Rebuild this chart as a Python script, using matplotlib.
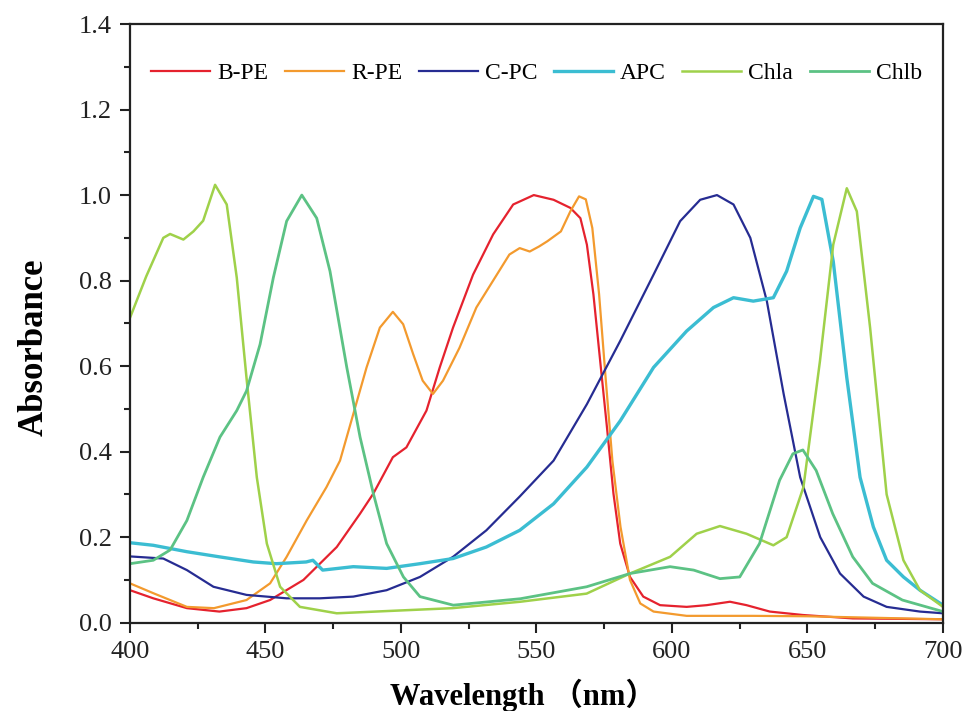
import matplotlib
matplotlib.use("Agg")
import matplotlib.pyplot as plt
from matplotlib.ticker import MultipleLocator

plt.rcParams['font.family'] = ['Liberation Serif', 'Noto Sans CJK SC']

# absorbance spectra (normalised)
bpe_wl = [400, 408.6, 421, 433, 443, 451.7, 464, 476.3, 484.9, 489.8, 497, 502, 509.4, 514.3,
          519.2, 526.6, 534, 541.4, 549, 556.3, 562.5, 566.2, 568.6, 571, 573.5, 576, 578.4,
          580.9, 584.5, 589.4, 595.6, 605.4, 612.8, 621.4, 627.5, 636.1, 648.3, 666.7, 700]
bpe_ab = [0.076, 0.057, 0.034, 0.026, 0.034, 0.053, 0.1, 0.177, 0.255, 0.302, 0.387, 0.41, 0.496, 0.597,
          0.69, 0.814, 0.908, 0.978, 1.0, 0.989, 0.97, 0.946, 0.884, 0.768, 0.612, 0.457, 0.302,
          0.185, 0.107, 0.061, 0.041, 0.037, 0.041, 0.049, 0.041, 0.026, 0.018, 0.01, 0.008]

rpe_wl = [400, 408.6, 421, 431, 443, 451.7, 457.8, 465.2, 472.5, 477.5, 482.4, 487.3, 492.2, 497,
          500.8, 504.5, 508, 511.8, 515.5, 521.6, 527.8, 533.9, 540, 543.8, 547.5, 551, 554, 559,
          562.5, 565.7, 568.2, 570.6, 573.1, 575.5, 578, 581, 584.5, 588.3, 593.2, 605.4, 630, 650, 700]
rpe_ab = [0.092, 0.069, 0.037, 0.034, 0.053, 0.092, 0.154, 0.239, 0.317, 0.379, 0.488, 0.597, 0.69, 0.727,
          0.698, 0.628, 0.566, 0.535, 0.566, 0.643, 0.737, 0.799, 0.861, 0.876, 0.868, 0.88, 0.892, 0.915,
          0.962, 0.997, 0.99, 0.923, 0.768, 0.573, 0.379, 0.224, 0.1, 0.045, 0.026, 0.016, 0.016, 0.015, 0.008]

cpc_wl = [400, 412.3, 421, 430.8, 443, 457.8, 470, 482.4, 494.7, 507, 519.2, 531.5, 543.8, 556.3,
          568.6, 580.9, 593.2, 603, 610.4, 616.6, 622.7, 628.9, 635, 641.2, 647.3, 654.7, 662,
          670.7, 679.2, 691.5, 700]
cpc_ab = [0.155, 0.15, 0.123, 0.084, 0.065, 0.057, 0.057, 0.061, 0.076, 0.107, 0.154, 0.216, 0.295, 0.379,
          0.511, 0.659, 0.814, 0.939, 0.989, 1.0, 0.978, 0.9, 0.752, 0.535, 0.34, 0.2, 0.115,
          0.061, 0.037, 0.026, 0.022]

apc_wl = [400, 408.6, 421, 433, 445.5, 454, 465, 467.5, 471.1, 482.4, 494.7, 507, 519.2, 531.5,
          543.8, 556.3, 568.6, 580.9, 593.2, 605.4, 615.3, 622.7, 630, 637.4, 642.3, 647.3, 652.2,
          655.3, 659.5, 664.5, 669.4, 674.3, 679.2, 685.4, 691.5, 700]
apc_ab = [0.187, 0.181, 0.166, 0.154, 0.142, 0.138, 0.142, 0.146, 0.123, 0.131, 0.127, 0.138, 0.15, 0.177,
          0.216, 0.278, 0.364, 0.472, 0.597, 0.682, 0.737, 0.76, 0.752, 0.76, 0.822, 0.923, 0.997,
          0.99, 0.845, 0.573, 0.34, 0.224, 0.146, 0.107, 0.076, 0.041]

chla_wl = [400, 406, 412.3, 414.8, 419.7, 423.4, 427, 431.4, 435.7, 439.4, 443.1, 446.8, 450.5, 455.4,
           462.7, 476.3, 519, 544, 568.5, 584.5, 599.3, 609.1, 617.7, 627.5, 637.4, 642.3, 648.5,
           654.6, 659.5, 664.5, 668.2, 673.1, 679.2, 685.4, 691.5, 700]
chla_ab = [0.713, 0.81, 0.9, 0.909, 0.896, 0.915, 0.94, 1.024, 0.978, 0.807, 0.566, 0.34, 0.185, 0.084,
           0.037, 0.022, 0.034, 0.049, 0.068, 0.115, 0.154, 0.208, 0.226, 0.208, 0.181, 0.2, 0.317,
           0.612, 0.884, 1.016, 0.962, 0.69, 0.3, 0.146, 0.076, 0.037]

chlb_wl = [400, 408.6, 414.8, 421, 427, 433.2, 439.4, 443, 448, 452.9, 457.8, 463.4, 468.9, 473.8,
           480, 484.9, 489.8, 494.7, 500.9, 507, 519.3, 544, 568.5, 584.5, 599.3, 608, 617.7, 625,
           632.3, 639.7, 644.6, 648.3, 653.2, 659.3, 666.7, 674, 685, 700]
chlb_ab = [0.138, 0.146, 0.17, 0.239, 0.34, 0.434, 0.496, 0.542, 0.651, 0.807, 0.939, 1.0, 0.946, 0.822,
           0.597, 0.434, 0.302, 0.185, 0.107, 0.061, 0.041, 0.056, 0.084, 0.115, 0.131, 0.123, 0.103, 0.107,
           0.185, 0.333, 0.395, 0.404, 0.356, 0.255, 0.154, 0.092, 0.053, 0.026]

fig = plt.figure(figsize=(9.65, 7.11), dpi=100)
ax = fig.add_axes([0.1347, 0.1242, 0.8425, 0.842])

ax.plot(bpe_wl, bpe_ab, color='#e5222e', lw=1.6, label='B-PE')
ax.plot(rpe_wl, rpe_ab, color='#f39a2e', lw=1.6, label='R-PE')
ax.plot(cpc_wl, cpc_ab, color='#262c92', lw=1.6, label='C-PC')
ax.plot(apc_wl, apc_ab, color='#3bbdd2', lw=2.4, label='APC')
ax.plot(chla_wl, chla_ab, color='#9fd14a', lw=1.8, label='Chla')
ax.plot(chlb_wl, chlb_ab, color='#5cc284', lw=2.0, label='Chlb')

ax.set_xlim(400, 700)
ax.set_ylim(0, 1.4)
ax.xaxis.set_major_locator(MultipleLocator(50))
ax.xaxis.set_minor_locator(MultipleLocator(25))
ax.yaxis.set_major_locator(MultipleLocator(0.2))
ax.yaxis.set_minor_locator(MultipleLocator(0.1))
ax.yaxis.set_major_formatter(lambda v, p: '%.1f' % v)

ax.tick_params(which='both', direction='out', top=False, right=False, width=1.5, labelsize=19, colors='#222222')
ax.tick_params(which='major', length=7, pad=6)
ax.tick_params(which='minor', length=4)
for s in ax.spines.values():
    s.set_linewidth(1.6)
    s.set_color('#222222')

ax.set_xlabel('Wavelength （nm）', fontsize=22, fontweight='bold')
ax.xaxis.set_label_coords(0.483, -0.094)
ax.set_ylabel('Absorbance', fontsize=25, fontweight='bold')
ax.yaxis.set_label_coords(-0.097, 0.46)

ax.legend(loc='center', bbox_to_anchor=(0.5, 0.918), ncol=6, frameon=False, fontsize=17,
          handlelength=2.5, handletextpad=0.3, columnspacing=0.7, borderpad=0)

fig.savefig('out.png', dpi=100)
